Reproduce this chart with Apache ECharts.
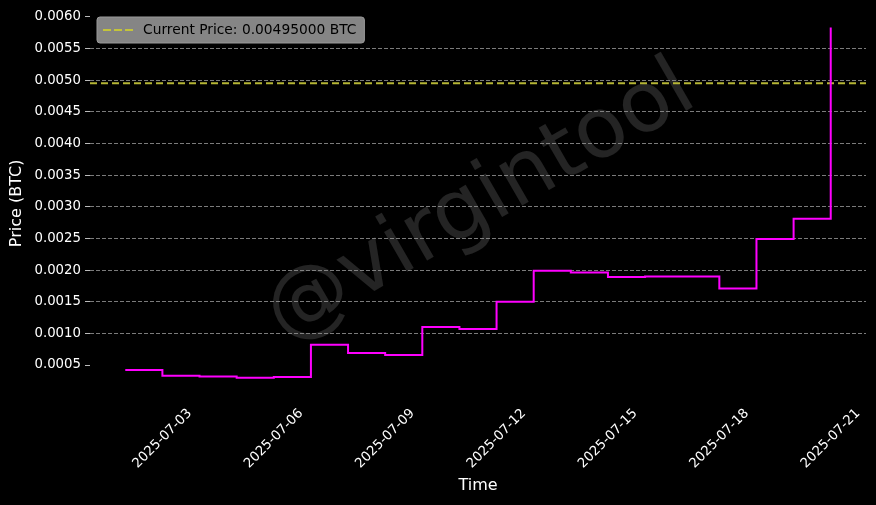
<!DOCTYPE html>
<html>
<head>
<meta charset="utf-8">
<script src="https://cdn.jsdelivr.net/npm/echarts@6/dist/echarts.min.js"></script>
<style>
html,body{margin:0;padding:0;background:#000;}
#chart{width:876px;height:505px;}
</style>
</head>
<body>
<div id="chart"></div>
<script>
const dates = ['2025-07-02','2025-07-03','2025-07-04','2025-07-05','2025-07-06','2025-07-07','2025-07-08','2025-07-09','2025-07-10','2025-07-11','2025-07-12','2025-07-13','2025-07-14','2025-07-15','2025-07-16','2025-07-17','2025-07-18','2025-07-19','2025-07-20','2025-07-21'];
const prices = [0.00042,0.00033,0.00032,0.00030,0.00031,0.00082,0.00069,0.00066,0.00110,0.00107,0.00150,0.00199,0.00196,0.00189,0.00190,0.00190,0.00171,0.00249,0.00281,0.00583];
const currentPrice = 0.00495;
const xTickLabels = ['2025-07-03','2025-07-06','2025-07-09','2025-07-12','2025-07-15','2025-07-18','2025-07-21'];
const yTicks = [0.0005,0.0010,0.0015,0.0020,0.0025,0.0030,0.0035,0.0040,0.0045,0.0050,0.0055,0.0060];
const watermark = '@virgintool';

const toTs = s => { const p = s.split('-').map(Number); return Date.UTC(p[0], p[1]-1, p[2]); };
const xs = dates.map(toTs);
const xRange = xs[xs.length-1] - xs[0];
const xMin = xs[0] - 0.05 * xRange;
const xMax = xs[xs.length-1] + 0.05 * xRange;
const yLo = Math.min(...prices), yHi = Math.max(...prices);
const yMax = yHi + 0.05 * (yHi - yLo);
const font = 'DejaVu Sans';
const legendName = 'Current Price: ' + currentPrice.toFixed(8) + ' BTC';

const chart = echarts.init(document.getElementById('chart'));
chart.setOption({
  backgroundColor: '#000',
  animation: false,
  textStyle: {fontFamily: font},
  grid: {left: 90, right: 10, top: 10, bottom: 108.3},
  legend: {
    left: 97, top: 17,
    padding: [6, 8, 6, 6],
    backgroundColor: '#858585',
    borderColor: '#9a9a9a', borderWidth: 1, borderRadius: 3,
    itemWidth: 30, itemHeight: 2,
    textStyle: {color: '#000', fontSize: 13.8, fontFamily: font, padding: [0,0,0,5]},
    data: [{
      name: legendName,
      icon: 'path://M0,0h8v2h-8z M11,0h8v2h-8z M22,0h8v2h-8z',
      itemStyle: {color: '#c4c43a'}
    }]
  },
  graphic: [{
    type: 'text', x: 481, y: 204, rotation: 30 * Math.PI / 180, z: 0, silent: true,
    style: {text: watermark, font: '84px "DejaVu Sans"', fill: 'rgba(255,255,255,0.14)', align: 'center', verticalAlign: 'middle'}
  }],
  xAxis: {
    type: 'value', min: xMin, max: xMax,
    name: 'Time', nameLocation: 'middle', nameGap: 80,
    nameTextStyle: {color: '#fff', fontSize: 16, fontFamily: font},
    axisLine: {show: false},
    axisTick: {show: false},
    splitLine: {show: false},
    axisLabel: {
      customValues: xTickLabels.map(toTs),
      rotate: 45, align: 'center', verticalAlign: 'middle', margin: 42,
      color: '#fff', fontSize: 13.3, fontFamily: font,
      formatter: v => new Date(v).toISOString().slice(0, 10)
    }
  },
  yAxis: {
    type: 'value', min: 0, max: yMax,
    name: 'Price (BTC)', nameLocation: 'middle', nameGap: 65, nameMoveOverlap: false,
    nameTextStyle: {color: '#fff', fontSize: 16, fontFamily: font},
    axisLine: {show: false},
    axisTick: {show: true, length: 5, lineStyle: {color: '#bbb', width: 1}, customValues: yTicks},
    axisLabel: {customValues: yTicks, margin: 9, color: '#fff', fontSize: 13.3, fontFamily: font, formatter: v => v.toFixed(4)},
    splitLine: {show: true, showMinLine: false, showMaxLine: false, lineStyle: {color: '#9a9a9a', width: 0.8, type: [4, 2]}}
  },
  series: [
    {
      name: 'price', type: 'custom', z: 3,
      data: xs.map((x, i) => [x, prices[i]]),
      renderItem: (params, api) => {
        if (params.dataIndexInside !== 0) return null;
        const n = params.dataInsideLength;
        const pts = [];
        for (let i = 0; i < n; i++) {
          const p = api.coord([api.value(0, i), api.value(1, i)]);
          if (i > 0) pts.push([p[0], pts[pts.length - 1][1]]);
          pts.push(p);
        }
        return {
          type: 'polyline', shape: {points: pts},
          style: {stroke: '#ff00ff', lineWidth: 2, fill: null, lineJoin: 'miter'}
        };
      }
    },
    {
      name: legendName, type: 'line', symbol: 'none',
      data: [[xMin, currentPrice], [xMax, currentPrice]],
      lineStyle: {color: '#b5b535', width: 2, type: [7, 4]},
      itemStyle: {color: '#c4c43a'}, z: 2
    }
  ]
});
</script>
</body>
</html>
